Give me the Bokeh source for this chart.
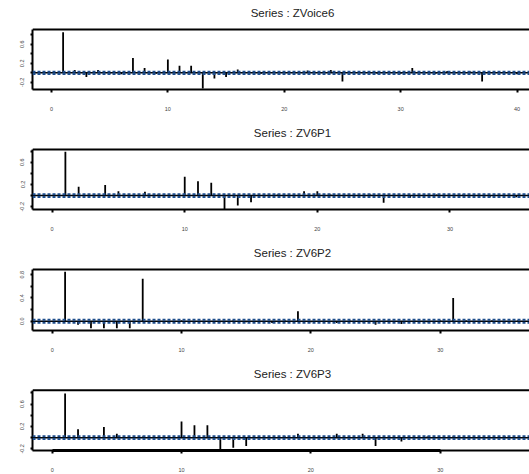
from bokeh.plotting import figure
from bokeh.layouts import column
from bokeh.models import (Range1d, LinearAxis, FixedTicker, PrintfTickFormatter,
                          Label, ColumnDataSource, Span)
from bokeh.embed import file_html
from bokeh.resources import INLINE

# ---------------- data ----------------
titles = ["Series : ZVoice6", "Series : ZV6P1", "Series : ZV6P2", "Series : ZV6P3"]

acf_zvoice6 = [0.85, 0.06, -0.09, 0.06, -0.02, -0.03, 0.31, 0.10, -0.02, 0.28,
               0.15, 0.15, -0.33, -0.12, -0.09, 0.07, 0.01, -0.02, 0.01, -0.02,
               0.01, 0.05, -0.01, 0.06, -0.18, -0.03, 0.01, -0.02, 0.01, -0.02,
               0.10, 0.04, -0.02, 0.04, 0.01, 0.03, -0.18, -0.04, 0.01, -0.03]
acf_zv6p1 = [0.79, 0.16, 0.01, 0.19, 0.08, 0.01, 0.07, 0.02, 0.01, 0.34,
             0.26, 0.23, -0.24, -0.18, -0.12, -0.02, 0.02, 0.01, 0.08, 0.08,
             0.02, -0.02, 0.01, 0.02, -0.13, 0.01, -0.04, 0.01, 0.02, 0.01,
             0.02, 0.01, -0.03, 0.01, -0.03]
acf_zv6p2 = [0.85, -0.06, -0.12, -0.12, -0.12, -0.12, 0.73, 0.00, -0.03, 0.01,
             -0.02, 0.00, -0.02, 0.01, -0.02, 0.01, -0.03, 0.01, 0.17, -0.02,
             0.01, -0.03, 0.01, -0.02, -0.06, 0.01, -0.05, 0.01, -0.02, 0.01,
             0.40, 0.01, -0.02, 0.01, -0.02, 0.01, -0.02]
acf_zv6p3 = [0.79, 0.15, 0.01, 0.19, 0.07, 0.01, 0.02, 0.01, 0.00, 0.29,
             0.22, 0.22, -0.21, -0.18, -0.15, -0.01, 0.01, 0.02, 0.07, 0.01,
             0.02, 0.07, 0.01, 0.07, -0.15, 0.01, -0.07, 0.01, 0.02, 0.01,
             0.02, 0.01, -0.03, 0.01, 0.02, 0.01, 0.01]
series = [acf_zvoice6, acf_zv6p1, acf_zv6p2, acf_zv6p3]

conf_limit = 0.025

x_ranges = [(-1.63, 41.07), (-1.48, 36.0), (-1.52, 36.9), (-1.52, 36.9)]
y_ranges = [(-0.35, 0.91), (-0.25, 0.83), (-0.16, 0.89), (-0.23, 0.85)]
x_ticks = [[0, 10, 20, 30, 40], [0, 10, 20, 30], [0, 10, 20, 30], [0, 10, 20, 30]]
y_major = [[-0.2, 0.2, 0.6], [-0.2, 0.2, 0.6], [0.0, 0.4, 0.8], [-0.2, 0.2, 0.6]]
y_minor = [[0.0, 0.4, 0.8], [0.0, 0.4, 0.8], [0.2, 0.6], [0.0, 0.4, 0.8]]

heights = [119, 120, 120, 115]
tops = [29, 30, 30, 31]      # space for the title (px) above each box
boxes = [60, 60, 61, 61]     # box heights (px)
FONT = "Liberation Sans"
CI_COLOR = "#1f4e8c"


def border_axis():
    return LinearAxis(ticker=FixedTicker(ticks=[]), axis_line_width=2,
                      axis_line_color="black", major_tick_line_color=None,
                      minor_tick_line_color=None, major_tick_out=0, major_tick_in=0,
                      minor_tick_out=0, minor_tick_in=0, major_label_standoff=0,
                      major_label_text_font_size="0px")


figs = []
for i in range(4):
    vals = series[i]
    lags = list(range(1, len(vals) + 1))
    H = heights[i]
    x0, x1 = x_ranges[i]
    y0, y1 = y_ranges[i]
    # extend the range upward so the title area lies inside the frame
    y_top = y1 + tops[i] / boxes[i] * (y1 - y0)
    p = figure(width=529, height=H, x_range=Range1d(x0, x1),
               y_range=Range1d(y0, y_top), x_axis_type=None, y_axis_type=None,
               toolbar_location=None, output_backend="svg",
               min_border_left=32, min_border_right=0,
               min_border_top=0, min_border_bottom=H - tops[i] - boxes[i])
    p.outline_line_color = None
    p.background_fill_color = "white"
    p.border_fill_color = "white"

    # title
    p.add_layout(Label(x=(x0 + x1) / 2, y=y1, x_offset=11.5, y_offset=16.5,
                       text=titles[i], text_align="center", text_baseline="middle",
                       text_font=FONT, text_font_size="11.5px",
                       text_color="#222222"))

    # top border of the box
    p.add_layout(Span(location=y1, dimension="width", line_color="black", line_width=2))
    # bottom border
    p.add_layout(border_axis(), "below")

    # x tick axis
    xa = LinearAxis(ticker=FixedTicker(ticks=x_ticks[i]),
                    formatter=PrintfTickFormatter(format="%d"),
                    major_tick_out=3, major_tick_in=0, major_tick_line_width=2,
                    minor_tick_line_color=None,
                    major_label_text_font=FONT, major_label_text_font_size="5.5px",
                    major_label_text_color="#444444", major_label_standoff=14)
    if i == 3:
        xa.bounds = (0, 30)
        xa.axis_line_width = 3
        xa.axis_line_color = "black"
    else:
        xa.axis_line_color = None
    p.add_layout(xa, "below")

    ya = LinearAxis(ticker=FixedTicker(ticks=y_major[i], minor_ticks=y_minor[i]),
                    formatter=PrintfTickFormatter(format="%.1f"), bounds=(y0, y1),
                    axis_line_width=2, axis_line_color="black",
                    major_tick_out=2, major_tick_in=0, major_tick_line_width=2,
                    minor_tick_out=2, minor_tick_in=0, minor_tick_line_width=2,
                    major_label_orientation="vertical",
                    major_label_text_font=FONT, major_label_text_font_size="5.5px",
                    major_label_text_color="#444444", major_label_standoff=6)
    p.add_layout(ya, "left")

    src = ColumnDataSource(dict(lag=lags, val=vals, zero=[0] * len(lags)))
    # zero line
    p.add_layout(Span(location=0, dimension="width", line_color="black", line_width=1.5))
    # confidence limits
    for c in (conf_limit, -conf_limit):
        p.add_layout(Span(location=c, dimension="width", line_color=CI_COLOR,
                          line_width=2, line_dash="3 2"))
    # acf bars
    p.segment(x0="lag", y0="zero", x1="lag", y1="val", source=src,
              line_color="black", line_width=1.8)
    figs.append(p)

layout = column(*figs, spacing=0)
open("out.html", "w").write(file_html(layout, INLINE))
